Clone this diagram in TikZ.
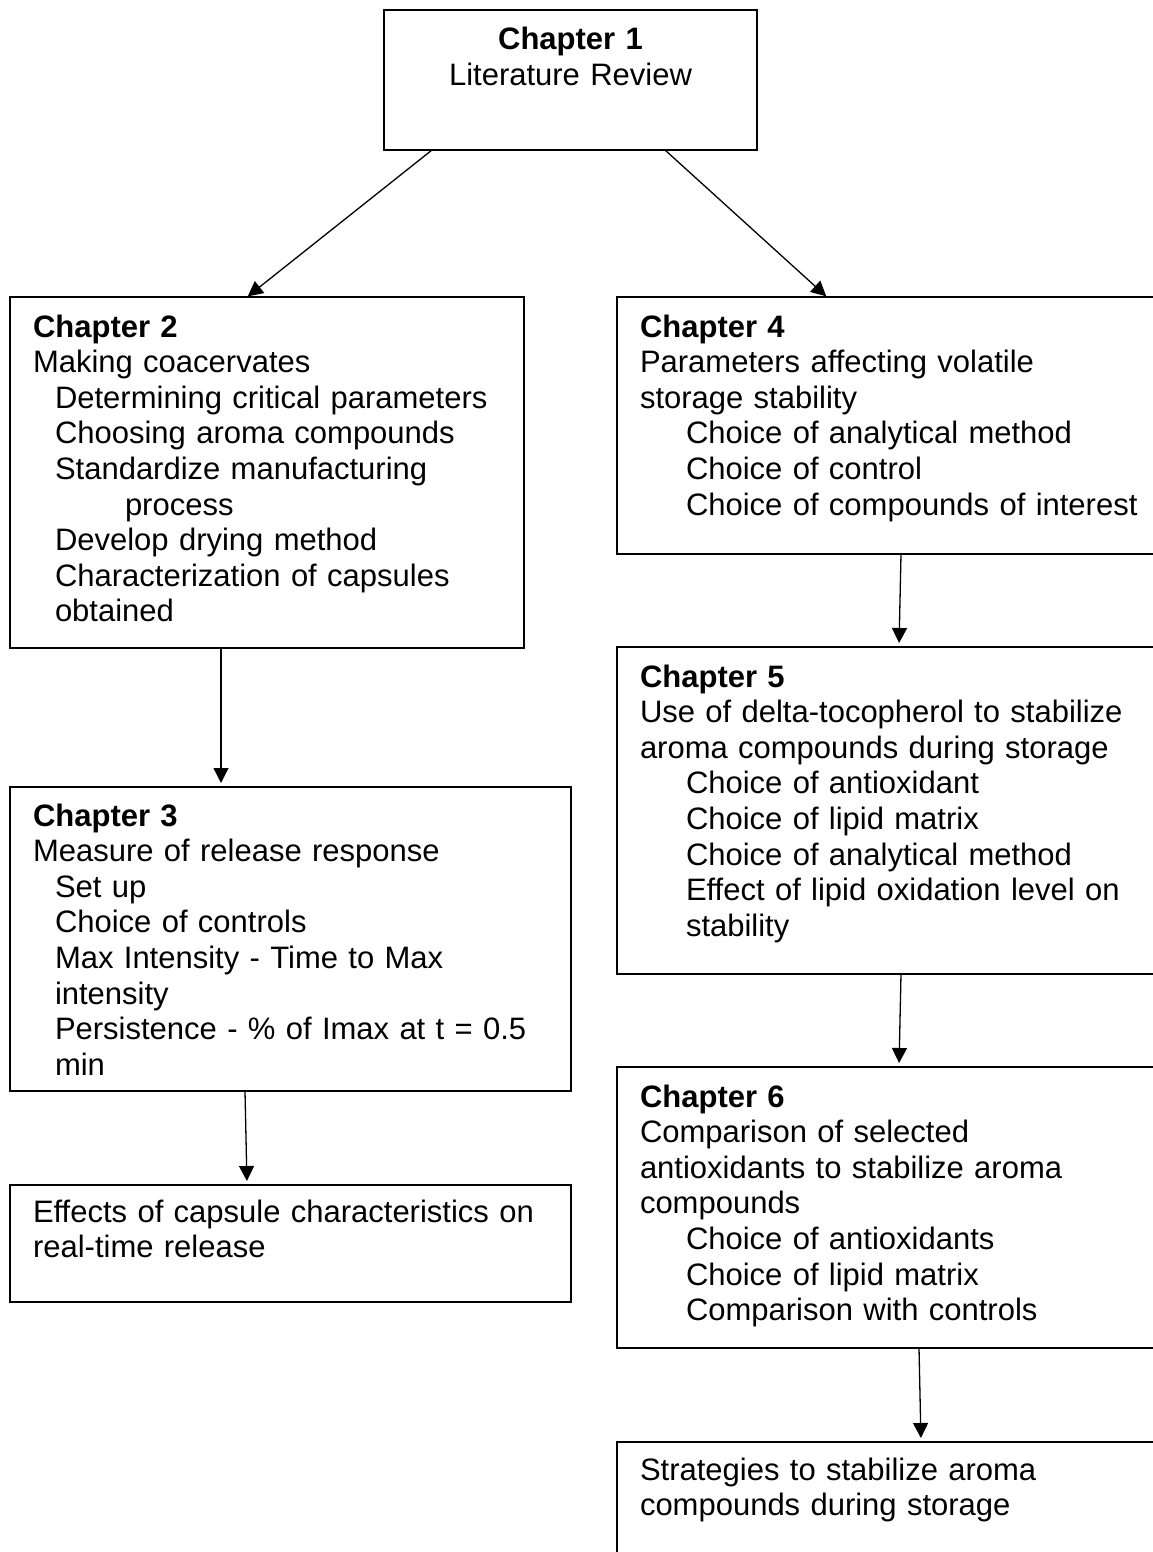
\documentclass[tikz,border=0pt]{standalone}
\usepackage{fontspec}
\setmainfont[Ligatures=NoCommon]{Liberation Sans}
\usetikzlibrary{positioning,arrows.meta}

\begin{document}
\begin{tikzpicture}[
  x=1pt,y=-1pt,
  font=\fontsize{31}{35.6}\selectfont,
  chap/.style={draw,line width=1.6pt,anchor=north west,align=left,
    inner xsep=23pt,inner ysep=0pt,outer sep=0pt,text height=40pt},
  flow/.style={->,line width=1.3pt,shorten >=4pt},
  >={Triangle[length=15pt,width=15pt]}
]
\useasboundingbox (0,0) rectangle (1153,1552);

\node[chap,align=center,text width=327pt,text depth=100pt] (c1) at (384,10) {\textbf{Chapter 1}\\Literature Review};

% left column
\node[chap,text width=468pt,text depth=311pt] (c2) at (10,297) {\textbf{Chapter 2}\\
Making coacervates\\
\hspace*{22pt}Determining critical parameters\\
\hspace*{22pt}Choosing aroma compounds\\
\hspace*{22pt}Standardize manufacturing\\
\hspace*{92pt}process\\
\hspace*{22pt}Develop drying method\\
\hspace*{22pt}Characterization of capsules\\
\hspace*{22pt}obtained};
\node[chap,below=139pt of c2.south west,anchor=north west,text width=515pt,text height=39pt,text depth=265pt] (c3) {\textbf{Chapter 3}\\
Measure of release response\\
\hspace*{22pt}Set up\\
\hspace*{22pt}Choice of controls\\
\hspace*{22pt}Max Intensity - Time to Max\\
\hspace*{22pt}intensity\\
\hspace*{22pt}Persistence - \% of Imax at t = 0.5\\
\hspace*{22pt}min};
\node[chap,below=94pt of c3.south west,anchor=north west,text width=515pt,text height=37pt,text depth=80pt] (eff) {Effects of capsule characteristics on\\real-time release};

% right column (runs past the page edge)
\node[chap,right=93pt of c2.north east,anchor=north west,text width=530pt,text depth=217pt] (c4) {\textbf{Chapter 4}\\
Parameters affecting volatile\\
storage stability\\
\hspace*{46pt}Choice of analytical method\\
\hspace*{46pt}Choice of control\\
\hspace*{46pt}Choice of compounds of interest};
\node[chap,below=93pt of c4.south west,anchor=north west,text width=530pt,text depth=287pt] (c5) {\textbf{Chapter 5}\\
Use of delta-tocopherol to stabilize\\
aroma compounds during storage\\
\hspace*{46pt}Choice of antioxidant\\
\hspace*{46pt}Choice of lipid matrix\\
\hspace*{46pt}Choice of analytical method\\
\hspace*{46pt}Effect of lipid oxidation level on\\
\hspace*{46pt}stability};
\node[chap,below=93pt of c5.south west,anchor=north west,text width=530pt,text depth=241pt] (c6) {\textbf{Chapter 6}\\
Comparison of selected\\
antioxidants to stabilize aroma\\
compounds\\
\hspace*{46pt}Choice of antioxidants\\
\hspace*{46pt}Choice of lipid matrix\\
\hspace*{46pt}Comparison with controls};
\node[chap,below=94pt of c6.south west,anchor=north west,text width=530pt,text height=38pt,text depth=80pt] (strat) {Strategies to stabilize aroma\\compounds during storage};

\draw[flow,shorten >=1pt] ([xshift=48pt]c1.south west) -- ([xshift=237pt]c2.north west);
\draw[flow,shorten >=1pt] ([xshift=281pt]c1.south west) -- ([xshift=210pt]c4.north west);
\draw[flow] ([xshift=211pt]c2.south west) -- ([xshift=211pt]c3.north west);
\draw[flow] ([xshift=235pt]c3.south west) -- ([xshift=237pt]eff.north west);
\draw[flow] ([xshift=284pt]c4.south west) -- ([xshift=282pt]c5.north west);
\draw[flow] ([xshift=284pt]c5.south west) -- ([xshift=282pt]c6.north west);
\draw[flow] ([xshift=302pt]c6.south west) -- ([xshift=304pt]strat.north west);
\end{tikzpicture}
\end{document}
